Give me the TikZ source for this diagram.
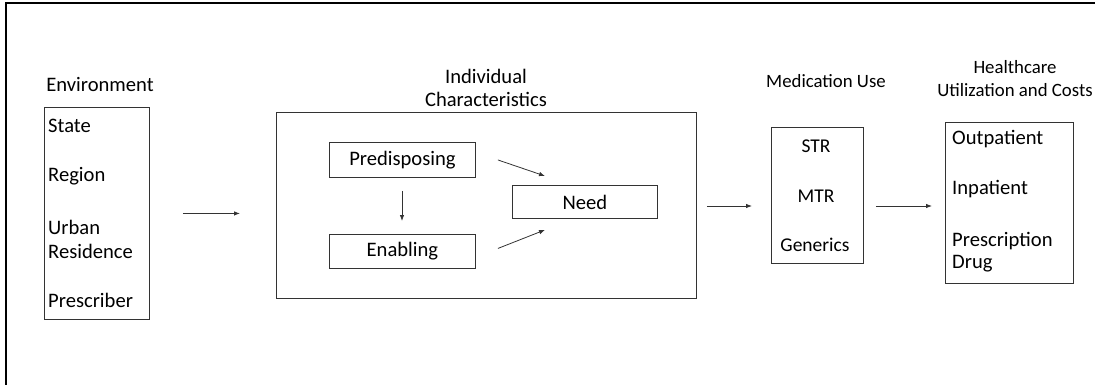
\documentclass[tikz,border=0pt]{standalone}
\usepackage{fontspec}
\setmainfont{Carlito}
\usetikzlibrary{arrows.meta,calc}
\tikzset{
  box/.style={draw=black!80, line width=0.9pt, inner sep=0pt, anchor=north west},
  txt/.style={inner sep=0pt, font=\fontsize{20.6}{24}\selectfont, text=black},
  mtxt/.style={inner sep=0pt, font=\fontsize{19.5}{23}\selectfont, text=black},
  ltxt/.style={txt, anchor=west, align=left},
  hdr/.style={txt, align=center},
  shdr/.style={inner sep=0pt, font=\fontsize{18.8}{23}\selectfont, text=black, align=center},
  arr/.style={draw=black!80, line width=0.8pt, -{Latex[length=6pt,width=4.5pt]}},
  frame/.style={draw=black, line width=2pt}
}
\begin{document}
\begin{tikzpicture}[x=1pt,y=-1pt]
\useasboundingbox (0,0) rectangle (1095,385);
\draw[frame] (1100,3) -- (6,3) -- (6,390);

% Environment
\node[hdr] (envl) at (100,84) {Environment};
\node[box, minimum width=105pt, minimum height=212pt] (env) at (44,107) {};
\node[ltxt] (state) at (48,126) {State};
\node[ltxt] (region) at (48,176) {Region};
\node[ltxt] (urban) at (48,239) {Urban\\Residence};
\node[ltxt] (presc) at (48,300) {Prescriber};

% Individual characteristics
\node[hdr, font=\fontsize{20.6}{22.5}\selectfont] (indl) at (486,88) {Individual\\Characteristics};
\node[box, minimum width=420pt, minimum height=186pt] (ind) at (276,112) {};
\node[box, minimum width=146pt, minimum height=35pt] (pred) at (329,142) {};
\node[txt] at (pred.center) {Predisposing};
\node[box, minimum width=146pt, minimum height=34pt] (enab) at (329,234) {};
\node[txt] at (enab.center) {Enabling};
\node[box, minimum width=145pt, minimum height=33pt] (need) at (512,185) {};
\node[txt] at (need.center) {Need};

% Medication use
\node[shdr] (medl) at (826,81) {Medication Use};
\node[box, minimum width=92pt, minimum height=136pt] (med) at (771,127) {};
\node[mtxt] (str) at (816,146) {STR};
\node[mtxt] (mtr) at (816,196) {MTR};
\node[mtxt] (gen) at (815,245) {Generics};

% Healthcare
\node[shdr] (hcl) at (1015,79) {Healthcare\\Utilization and Costs};
\node[box, minimum width=128pt, minimum height=161pt] (hc) at (945,122) {};
\node[ltxt] (outp) at (952,139) {Outpatient};
\node[ltxt] (inp) at (952,189) {Inpatient};
\node[ltxt, font=\fontsize{20.6}{22}\selectfont] (rx) at (952,252) {Prescription\\Drug};

% connectors
\draw[arr, shorten <=33pt, shorten >=36pt] (env.east) -- (env.east -| ind.west);
\draw[arr, shorten <=13pt, shorten >=13pt] (pred.south -| 402,0) -- (enab.north -| 402,0);
\draw[arr] ($(pred.east)+(22,0)$) -- ($(need.north west)+(33,-9)$);
\draw[arr] ($(enab.east)+(22,-3)$) -- ($(need.south west)+(33,11)$);
\coordinate (ylev) at (0,206);
\draw[arr, shorten <=10pt, shorten >=19pt] (ylev -| ind.east) -- (ylev -| med.west);
\draw[arr, shorten <=12pt, shorten >=13pt] (ylev -| med.east) -- (ylev -| hc.west);
\end{tikzpicture}
\end{document}
